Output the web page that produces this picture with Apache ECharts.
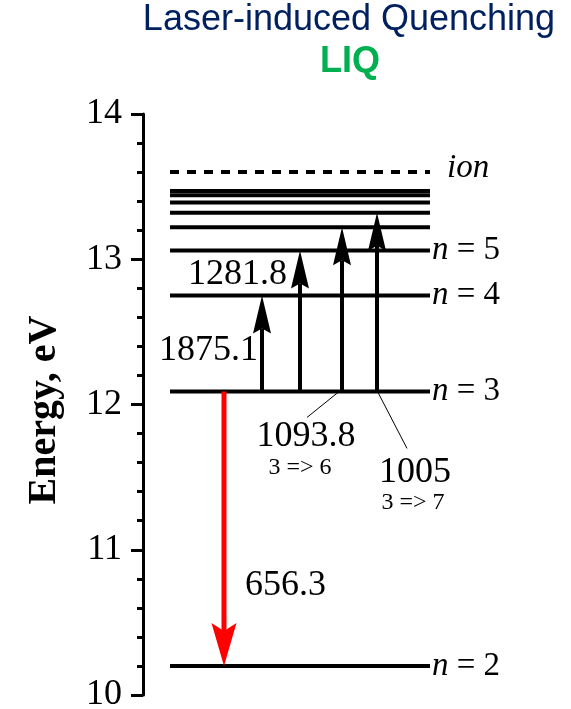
<!DOCTYPE html>
<html>
<head>
<meta charset="utf-8">
<script src="https://cdn.jsdelivr.net/npm/echarts@6/dist/echarts.min.js"></script>
<style>
  html, body { margin: 0; padding: 0; background: #fff; }
  #chart { width: 571px; height: 709px; }
</style>
</head>
<body>
<div id="chart"></div>
<script>
// Hydrogen bound levels, energy above the ground state (eV)
const levelQuantumNumbers = [2, 3, 4, 5, 6, 7, 8, 9, 10];
const levelEnergies = [10.20, 12.09, 12.75, 13.06, 13.22, 13.32, 13.39, 13.44, 13.47];
const levelLabels = ['n = 2', 'n = 3', 'n = 4', 'n = 5', '', '', '', '', ''];

// Ionisation limit
const ionEnergy = 13.6;
const ionLabel = 'ion';

// Laser pumping out of n = 3 (wavelengths in nm)
const pumpLower = 3;
const pumpUpper = [4, 5, 6, 7];
const pumpWavelengths = ['1875.1', '1281.8', '1093.8', '1005'];
const pumpNotes = ['', '', '3 => 6', '3 => 7'];

// Balmer-alpha emission (nm)
const emissionUpper = 3;
const emissionLower = 2;
const emissionWavelength = '656.3';

// Energy axis
const energyMin = 10, energyMax = 14, energyStep = 1;

// ---- layout (x measured in pixels from the energy axis) ----
const LEVEL_X0 = 27, LEVEL_X1 = 287;
const PUMP_X = [119, 157, 199, 234];
const EMISSION_X = 81;
// label offsets from the foot of each arrow, in pixels
const PUMP_LABEL_POS = [
  { text: [-4, -41], align: 'right' },
  { text: [-13, -117], align: 'right' },
  { leader: [-4, 1, -35, 26], text: [-36, 45], note: [-42, 76], align: 'center' },
  { leader: [1, 1, 30, 57], text: [38, 81], note: [36, 111], align: 'center' }
];
const EMISSION_LABEL_POS = [21, 194];

const SERIF = '"Liberation Serif", "Times New Roman", Times, serif';
const SANS = '"Liberation Sans", Arial, Helvetica, sans-serif';

function energyOf(n) {
  return levelEnergies[levelQuantumNumbers.indexOf(n)];
}

// vertical arrow: shaft plus a notched head whose tip sits on the target level
function arrowElements(from, to, color, shaftW, headW, headLen, notch) {
  const d = from[1] > to[1] ? 1 : -1;   // +1 when pointing up on screen
  const x = to[0], ty = to[1];
  const back = ty + d * headLen;
  const neck = ty + d * (headLen - notch);
  return [
    { type: 'line', shape: { x1: from[0], y1: from[1], x2: x, y2: neck },
      style: { stroke: color, lineWidth: shaftW } },
    { type: 'polygon', shape: { points: [[x, ty], [x + headW / 2, back], [x, neck], [x - headW / 2, back]] },
      style: { fill: color } }
  ];
}

function italicN(label) {
  return label.replace(/^n/, '{i|n}');
}

const chart = echarts.init(document.getElementById('chart'), null, { renderer: 'canvas' });

const option = {
  animation: false,
  backgroundColor: '#fff',
  title: [
    {
      text: 'Laser-induced Quenching', left: 349, top: 2, textAlign: 'center', padding: 0,
      textStyle: { fontFamily: SANS, fontSize: 36, fontWeight: 'normal', color: '#002060' }
    },
    {
      text: 'LIQ', left: 350, top: 44, textAlign: 'center', padding: 0,
      textStyle: { fontFamily: SANS, fontSize: 36, fontWeight: 'bold', color: '#00b050' }
    }
  ],
  grid: { left: 143, top: 114, bottom: 14, width: 428, containLabel: false, outerBoundsMode: 'none' },
  xAxis: { type: 'value', min: 0, max: 428, show: false },
  yAxis: {
    type: 'value', min: energyMin, max: energyMax, interval: energyStep,
    axisLine: { show: true, lineStyle: { color: '#000', width: 3 } },
    axisTick: { show: true, inside: false, length: 12, lineStyle: { color: '#000', width: 3 } },
    minorTick: { show: true, splitNumber: 5, length: 6, lineStyle: { color: '#000', width: 3 } },
    splitLine: { show: false },
    minorSplitLine: { show: false },
    axisLabel: { color: '#000', fontFamily: SERIF, fontSize: 36, margin: 21 },
    name: 'Energy, eV', nameLocation: 'middle', nameGap: 78,
    nameTextStyle: { color: '#000', fontFamily: SERIF, fontSize: 40, fontWeight: 'bold', padding: [0, 11, 0, 0] }
  },
  series: [
    {
      // bound levels
      type: 'custom', name: 'levels',
      data: levelEnergies.map((e, i) => [i, e]),
      encode: { x: 0, y: 1 },
      renderItem(params, api) {
        const e = api.value(1);
        const a = api.coord([LEVEL_X0, e]);
        const b = api.coord([LEVEL_X1, e]);
        const children = [{
          type: 'line', shape: { x1: a[0], y1: a[1], x2: b[0], y2: b[1] },
          style: { stroke: '#000', lineWidth: 4 }
        }];
        const label = levelLabels[params.dataIndex];
        if (label) {
          children.push({
            type: 'text',
            style: {
              text: italicN(label), x: b[0] + 2, y: b[1], align: 'left', verticalAlign: 'middle',
              fill: '#000', fontFamily: SERIF, fontSize: 33,
              rich: { i: { fontStyle: 'italic', fontFamily: SERIF, fontSize: 33, fill: '#000' } }
            }
          });
        }
        return { type: 'group', children };
      }
    },
    {
      // ionisation limit
      type: 'custom', name: 'ion',
      data: [[0, ionEnergy]],
      encode: { x: 0, y: 1 },
      renderItem(params, api) {
        const e = api.value(1);
        const a = api.coord([LEVEL_X0, e]);
        const b = api.coord([LEVEL_X1, e]);
        return {
          type: 'group', children: [
            { type: 'line', shape: { x1: a[0], y1: a[1], x2: b[0], y2: b[1] },
              style: { stroke: '#000', lineWidth: 4, lineDash: [9, 8] } },
            { type: 'text', style: {
                text: ionLabel, x: b[0] + 17, y: b[1] - 4, align: 'left', verticalAlign: 'middle',
                fill: '#000', fontFamily: SERIF, fontSize: 33, fontStyle: 'italic' } }
          ]
        };
      }
    },
    {
      // laser pumping arrows
      type: 'custom', name: 'pump',
      data: pumpUpper.map((n, i) => [i, energyOf(pumpLower), energyOf(n)]),
      encode: { x: 0, y: [1, 2] },
      renderItem(params, api) {
        const i = params.dataIndex;
        const from = api.coord([PUMP_X[i], api.value(1)]);
        const to = api.coord([PUMP_X[i], api.value(2)]);
        const children = arrowElements(from, to, '#000', 4, 18, 38, 5);
        const pos = PUMP_LABEL_POS[i];
        if (pos.leader) {
          children.push({ type: 'line',
            shape: { x1: from[0] + pos.leader[0], y1: from[1] + pos.leader[1],
                     x2: from[0] + pos.leader[2], y2: from[1] + pos.leader[3] },
            style: { stroke: '#000', lineWidth: 1 } });
        }
        children.push({ type: 'text', style: {
          text: pumpWavelengths[i], x: from[0] + pos.text[0], y: from[1] + pos.text[1],
          align: pos.align, verticalAlign: 'middle', fill: '#000', fontFamily: SERIF, fontSize: 36 } });
        if (pumpNotes[i]) {
          children.push({ type: 'text', style: {
            text: pumpNotes[i], x: from[0] + pos.note[0], y: from[1] + pos.note[1],
            align: 'center', verticalAlign: 'middle', fill: '#000', fontFamily: SERIF, fontSize: 24 } });
        }
        return { type: 'group', children };
      }
    },
    {
      // Balmer-alpha emission
      type: 'custom', name: 'emission',
      data: [[0, energyOf(emissionUpper), energyOf(emissionLower)]],
      encode: { x: 0, y: [1, 2] },
      renderItem(params, api) {
        const from = api.coord([EMISSION_X, api.value(1)]);
        const to = api.coord([EMISSION_X, api.value(2)]);
        const children = arrowElements(from, to, '#ff0000', 5, 25, 43, 8);
        children.push({ type: 'text', style: {
          text: emissionWavelength, x: from[0] + EMISSION_LABEL_POS[0], y: from[1] + EMISSION_LABEL_POS[1],
          align: 'left', verticalAlign: 'middle', fill: '#000', fontFamily: SERIF, fontSize: 36 } });
        return { type: 'group', children };
      }
    }
  ]
};

chart.setOption(option);
</script>
</body>
</html>
